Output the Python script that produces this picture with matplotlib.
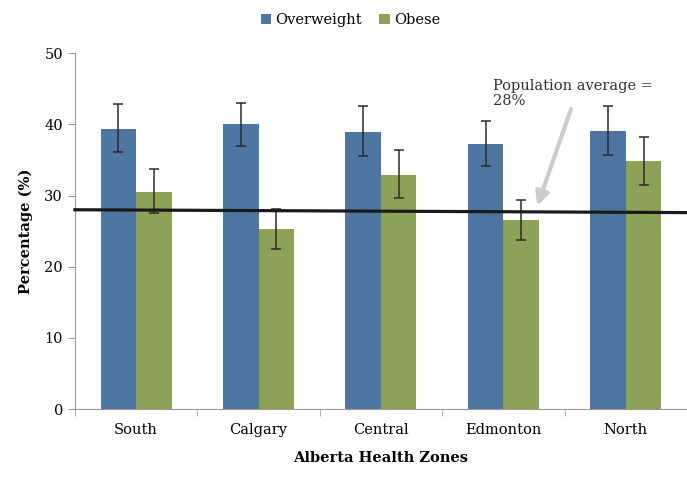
"""Overweight and obesity prevalence by Alberta Health Zone, with population average."""

import matplotlib
matplotlib.use("Agg")
import matplotlib.pyplot as plt
import numpy as np

zones = ["South", "Calgary", "Central", "Edmonton", "North"]
overweight = [39.3, 40.0, 38.9, 37.2, 39.0]
overweight_lo = [36.1, 36.9, 35.5, 34.1, 35.7]
overweight_hi = [42.8, 43.0, 42.5, 40.4, 42.5]
obese = [30.5, 25.3, 32.9, 26.5, 34.8]
obese_lo = [27.5, 22.5, 29.7, 23.7, 31.5]
obese_hi = [33.7, 28.1, 36.4, 29.4, 38.2]
pop_avg = 28

BLUE = "#4F76A0"
GREEN = "#8DA257"
SERIF = ["DejaVu Serif"]


def main() -> None:
    fig = plt.figure(figsize=(6.87, 4.78), dpi=100)
    ax = fig.add_axes([0.109, 0.144, 0.891, 0.745])

    x = np.arange(len(zones))
    w = 0.29
    ov = np.array(overweight)
    ob = np.array(obese)
    ov_err = [ov - np.array(overweight_lo), np.array(overweight_hi) - ov]
    ob_err = [ob - np.array(obese_lo), np.array(obese_hi) - ob]

    ekw = dict(ecolor="#2b2b2b", elinewidth=1.1, capsize=3.5, capthick=1.1)
    ax.bar(x - w / 2, ov, w, color=BLUE, yerr=ov_err, error_kw=ekw,
           label="Overweight", zorder=2)
    ax.bar(x + w / 2, ob, w, color=GREEN, yerr=ob_err, error_kw=ekw,
           label="Obese", zorder=2)

    # population average line (slightly tilted, as drawn by hand)
    ax.plot([-0.5, 4.5], [pop_avg, pop_avg - 0.4], color="#1a1a1a", lw=2.3,
            zorder=3, clip_on=False)
    ax.annotate("", xy=(3.27, 28.2), xytext=(3.56, 42.5),
                arrowprops=dict(arrowstyle="-|>", color="#cccccc", lw=3,
                                mutation_scale=20), zorder=4)
    ax.text(2.915, 46.4, "Population average =\n28%", family=SERIF,
            fontsize=10.5, color="#333333", va="top", ha="left",
            linespacing=1.1)

    ax.set_xlim(-0.5, 4.5)
    ax.set_ylim(0, 50)
    ax.set_yticks(range(0, 51, 10))
    ax.set_xticks(x)
    ax.set_xticklabels(zones, family=SERIF, fontsize=10.5)
    ax.set_xticks(np.arange(-0.5, 4.6, 1), minor=True)
    ax.tick_params(axis="x", which="major", length=0, pad=10)
    ax.tick_params(axis="x", which="minor", length=5, color="#999999")
    ax.tick_params(axis="y", length=5, color="#999999")
    for lbl in ax.get_yticklabels():
        lbl.set_family(SERIF)
        lbl.set_fontsize(10.5)

    for s in ("top", "right"):
        ax.spines[s].set_visible(False)
    for s in ("left", "bottom"):
        ax.spines[s].set_color("#999999")

    ax.set_ylabel("Percentage (%)", family=SERIF, fontsize=10.5,
                  fontweight="bold", labelpad=8)
    ax.set_xlabel("Alberta Health Zones", family=SERIF, fontsize=10.5,
                  fontweight="bold", labelpad=10)

    fig.legend(loc="upper center", bbox_to_anchor=(0.51, 1.0), ncol=2,
               frameon=False, prop={"family": SERIF, "size": 10.5},
               handlelength=0.7, handleheight=0.7, handletextpad=0.3,
               columnspacing=1.2)

    fig.savefig("out.png", dpi=100)
    plt.close(fig)


if __name__ == "__main__":
    main()
